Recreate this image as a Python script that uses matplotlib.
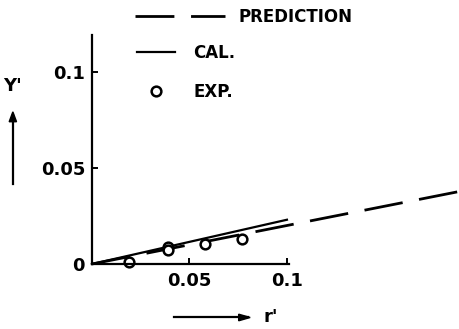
import numpy as np
import matplotlib.pyplot as plt
from matplotlib.lines import Line2D

# values
pred_x = [0.0, 0.19]
pred_y = [0.0, 0.038]
cal_x = [0.0, 0.1]
cal_y = [0.0, 0.023]
exp_x = [0.019, 0.039, 0.039, 0.058, 0.077]
exp_y = [0.001, 0.009, 0.0073, 0.0104, 0.013]

plt.rcParams['font.family'] = ['DejaVu Sans']
plt.rcParams['font.weight'] = 'bold'

fig = plt.figure(figsize=(4.59, 3.29), dpi=100)
ax = fig.add_axes([0.2004, 0.1976, 0.429, 0.696])

p_line, = ax.plot(pred_x, pred_y, color='black', lw=2.0, dashes=(14, 6),
                  clip_on=False, label='PREDICTION')
c_line, = ax.plot(cal_x, cal_y, color='black', lw=1.6, clip_on=False,
                  label='CAL.')
e_pts, = ax.plot(exp_x, exp_y, 'o', mfc='white', mec='black', mew=1.8, ms=7,
                 clip_on=False, label='EXP.')

ax.set_xlim(0, 0.101)
ax.set_ylim(0, 0.119)
ax.set_xticks([0.05, 0.1])
ax.set_xticklabels(['0.05', '0.1'])
ax.set_yticks([0, 0.05, 0.1])
ax.set_yticklabels(['0', '0.05', '0.1'])
ax.spines['top'].set_visible(False)
ax.spines['right'].set_visible(False)
ax.spines['left'].set_linewidth(1.6)
ax.spines['bottom'].set_linewidth(1.6)
ax.tick_params(axis='both', direction='in', length=4, width=1.4,
               labelsize=13, pad=6)
ax.tick_params(axis='y', pad=5)

# two legends so the dashed key can be longer than the solid one
leg1 = ax.legend([p_line], ['PREDICTION'], loc='upper left',
                 bbox_to_anchor=(0.294, 0.975), bbox_transform=fig.transFigure,
                 frameon=False, fontsize=12, handlelength=5.4,
                 handletextpad=0.8, borderpad=0, borderaxespad=0)
ax.add_artist(leg1)
ax.legend([c_line, e_pts], ['CAL.', 'EXP.'], loc='upper left',
          bbox_to_anchor=(0.298, 0.866), bbox_transform=fig.transFigure,
          frameon=False, fontsize=12, handlelength=2.3, labelspacing=1.25,
          handletextpad=1.1, borderpad=0, borderaxespad=0)

# axis labels with arrows, as in the sketch
fig.text(0.028, 0.74, "Y'", fontsize=13, ha='center', va='center')
fig.add_artist(Line2D([0.028, 0.028], [0.44, 0.65], color='black', lw=1.6,
                      transform=fig.transFigure))
fig.add_artist(plt.Polygon([[0.020, 0.63], [0.036, 0.63], [0.028, 0.66]],
                           color='black', transform=fig.transFigure))
fig.text(0.59, 0.035, "r'", fontsize=13, ha='center', va='center')
fig.add_artist(Line2D([0.38, 0.54], [0.035, 0.035], color='black', lw=1.6,
                      transform=fig.transFigure))
fig.add_artist(plt.Polygon([[0.52, 0.025], [0.52, 0.045], [0.545, 0.035]],
                           color='black', transform=fig.transFigure))

fig.savefig('out.png', dpi=100)
